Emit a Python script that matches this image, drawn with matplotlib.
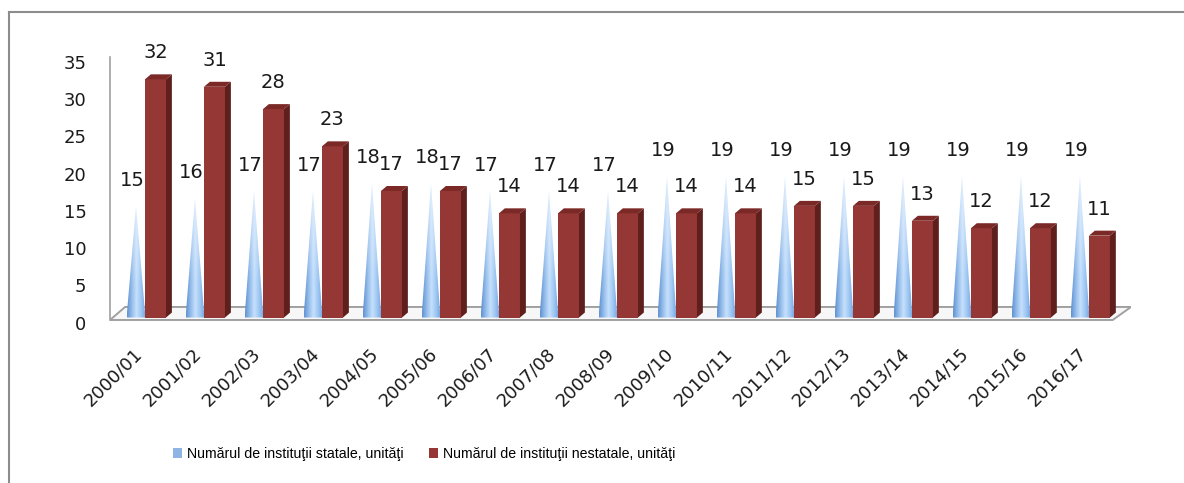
import numpy as np
import matplotlib
matplotlib.use("Agg")
import matplotlib.pyplot as plt
from matplotlib.patches import Polygon, Patch
from matplotlib.lines import Line2D
from matplotlib.transforms import ScaledTranslation

# data
years = ["2000/01", "2001/02", "2002/03", "2003/04", "2004/05", "2005/06",
         "2006/07", "2007/08", "2008/09", "2009/10", "2010/11", "2011/12",
         "2012/13", "2013/14", "2014/15", "2015/16", "2016/17"]
statale = [15, 16, 17, 17, 18, 18, 17, 17, 17, 19, 19, 19, 19, 19, 19, 19, 19]
nestatale = [32, 31, 28, 23, 17, 17, 14, 14, 14, 14, 14, 15, 15, 13, 12, 12, 11]

label_state = "Numărul de instituţii statale, unităţi"
label_private = "Numărul de instituţii nestatale, unităţi"

RED = "#953735"
RED_SIDE = "#5e1f1d"
RED_TOP = "#7b2927"
BLUE = "#8db4e2"

fig = plt.figure(figsize=(11.84, 4.83), dpi=100)
ax = fig.add_axes([110 / 1184, 161 / 483, 1021 / 1184, 265 / 483])

x = np.arange(len(years))
cone_x = x - 0.165
bar_x = x + 0.165
bar_w = 0.356
cone_hw = 0.16
dx, dy = 0.10, 0.67  # 3d depth offset in data units

# floor of the 3d plot
floor = Polygon([(-0.606, -0.33), (16.39, -0.33), (16.70, 1.42), (-0.35, 1.42)],
                closed=True, facecolor="#f7f7f7", edgecolor="#a0a0a0", lw=1.4, zorder=1)
ax.add_patch(floor)
ax.plot([-0.606, -0.606], [-0.33, 35], color="#a0a0a0", lw=1.2, zorder=1, clip_on=False)

# cones with a horizontal gradient
stops = np.array([[0.38, 0.57, 0.82], [0.58, 0.74, 0.92], [0.78, 0.88, 0.99],
                  [0.62, 0.78, 0.95], [0.44, 0.64, 0.88]])
xs = np.linspace(0, 1, 64)
grad = np.stack([np.interp(xs, np.linspace(0, 1, len(stops)), stops[:, c]) for c in range(3)], axis=-1)
img = np.repeat(grad[None, :, :], 64, axis=0)
fade = np.clip(np.linspace(0.45, -0.2, 64), 0, None)[:, None, None]  # lighter near apex
img = img * (1 - fade) + fade

for cx, v in zip(cone_x, statale):
    tri = Polygon([(cx - cone_hw, 0), (cx, v), (cx + cone_hw, 0)], closed=True,
                  facecolor="none", edgecolor="none")
    ax.add_patch(tri)
    im = ax.imshow(img, extent=(cx - cone_hw, cx + cone_hw, 0, v), aspect="auto",
                   interpolation="bilinear", zorder=2)
    im.set_clip_path(tri)
    ax.annotate(str(v), (cx - 0.06, v), xytext=(0, 18.5), textcoords="offset points",
                ha="center", va="center", fontsize=14, color="#1a1a1a", zorder=5)

# red 3d bars
ax.bar(bar_x, nestatale, width=bar_w, color=RED, zorder=3)
for bx, v in zip(bar_x, nestatale):
    xl, xr = bx - bar_w / 2, bx + bar_w / 2
    ax.add_patch(Polygon([(xr, 0), (xr + dx, dy), (xr + dx, v + dy), (xr, v)],
                         closed=True, facecolor=RED_SIDE, edgecolor="none", zorder=3))
    ax.add_patch(Polygon([(xl, v), (xl + dx, v + dy), (xr + dx, v + dy), (xr, v)],
                         closed=True, facecolor=RED_TOP, edgecolor="none", zorder=3))
    ax.annotate(str(v), (bx, v), xytext=(0, 19), textcoords="offset points",
                ha="center", va="center", fontsize=14, color="#1a1a1a", zorder=5)

ax.set_xlim(-0.606, 16.70)
ax.set_ylim(-0.6, 35)
ax.set_yticks(range(0, 36, 5))
ax.tick_params(axis="y", length=0, pad=17, labelsize=13, labelcolor="#1a1a1a")
ax.set_xticks(x)
ax.set_xticklabels(years, rotation=45, ha="right")
ax.tick_params(axis="x", length=0, pad=16, labelsize=13, labelcolor="#1a1a1a")
shift = ScaledTranslation(0, -5 / 100, fig.dpi_scale_trans)
for lab in ax.get_yticklabels():
    lab.set_transform(lab.get_transform() + shift)
for s in ax.spines.values():
    s.set_visible(False)
ax.patch.set_visible(False)

# legend
handles = [Patch(facecolor=BLUE, edgecolor="none"), Patch(facecolor=RED, edgecolor="none")]
fig.legend(handles, [label_state, label_private], loc="center left",
           bbox_to_anchor=(173 / 1184, 1 - 454 / 483), ncol=2, frameon=False,
           prop={"family": "Liberation Sans", "size": 10.2},
           borderpad=0, borderaxespad=0,
           handlelength=0.65, handleheight=0.65, handletextpad=0.35, columnspacing=1.8)

# outer frame (top and left only)
fig.add_artist(Line2D([9 / 1184, 1], [1 - 12 / 483, 1 - 12 / 483], color="#8c8c8c", lw=1.5))
fig.add_artist(Line2D([9 / 1184, 9 / 1184], [0, 1 - 12 / 483], color="#8c8c8c", lw=1.5))

fig.savefig("out.png", dpi=100, facecolor="white")
